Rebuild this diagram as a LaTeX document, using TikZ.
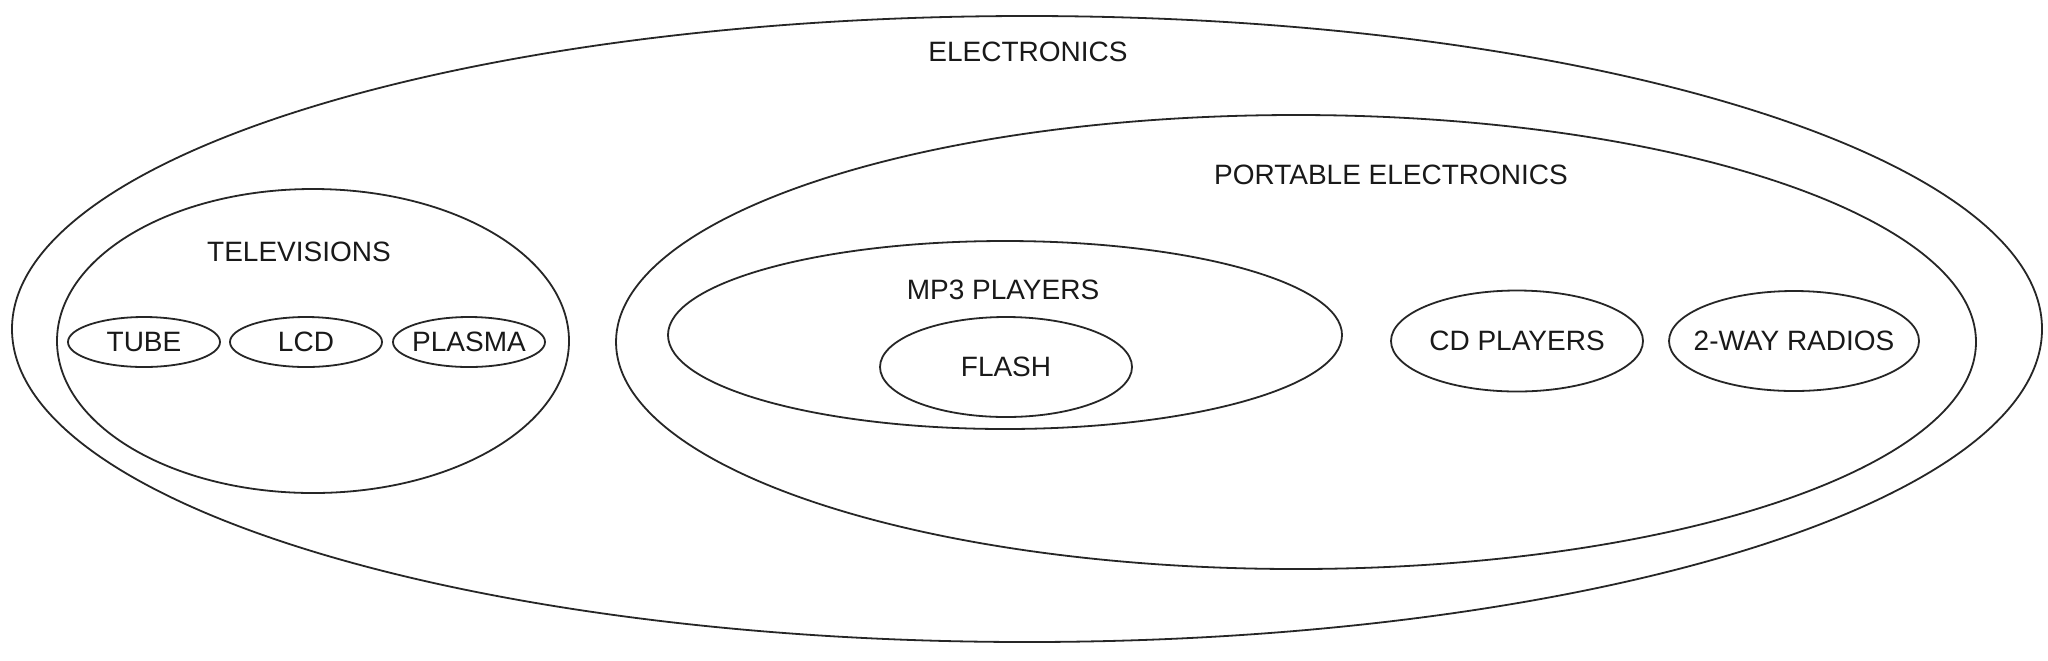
\documentclass[tikz,border=0pt]{standalone}
\usepackage{fontspec}
\setmainfont{Liberation Sans}
\usetikzlibrary{shapes.geometric}
\begin{document}
\begin{tikzpicture}[x=0.5pt,y=-0.5pt,
  lbl/.style={inner sep=0pt, font=\fontsize{14}{16}\selectfont, text=black!90},
  set/.style={draw=black!85, line width=0.9pt, ellipse, inner sep=0pt},
  named/.style={set, label={[lbl]center:#1}}]
\useasboundingbox (0,0) rectangle (2048,660);
\fill[white] (0,0) rectangle (2048,660);
\node[set, minimum width=1015pt, minimum height=313pt] (elec) at (1027,329) {};
\node[lbl] (elecl) at (1028,52) {ELECTRONICS};
\node[set, minimum width=680pt, minimum height=227pt] (port) at (1296,342) {};
\node[lbl] (portl) at (1391,175) {PORTABLE ELECTRONICS};
\node[set, minimum width=256pt, minimum height=152pt] (tv) at (313,341) {};
\node[lbl] (tvl) at (299,252) {TELEVISIONS};
\node[named=TUBE, minimum width=76pt, minimum height=25pt] (tube) at (144,342) {};
\node[named=LCD, minimum width=76pt, minimum height=25pt] (lcd) at (306,342) {};
\node[named=PLASMA, minimum width=76pt, minimum height=25pt] (plasma) at (469,342) {};
\node[set, minimum width=337pt, minimum height=94pt] (mp3) at (1005,335) {};
\node[lbl] (mp3l) at (1003,290) {MP3 PLAYERS};
\node[named=FLASH, minimum width=126pt, minimum height=50pt] (flash) at (1006,367) {};
\node[named=CD PLAYERS, minimum width=126pt, minimum height=50.5pt] (cd) at (1517,341) {};
\node[named=2-WAY RADIOS, minimum width=125pt, minimum height=50pt] (radio) at (1794,341) {};
\end{tikzpicture}
\end{document}
